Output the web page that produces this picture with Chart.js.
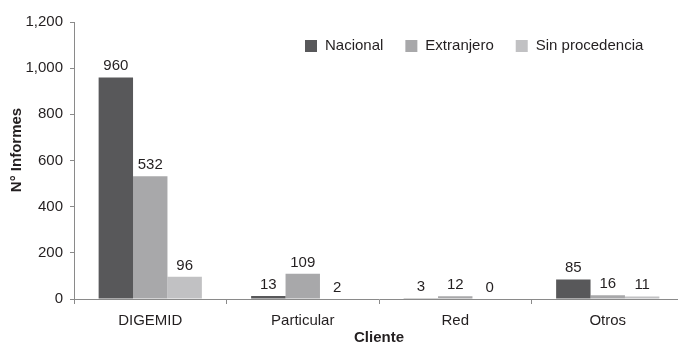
<!DOCTYPE html>
<html>
<head>
<meta charset="utf-8">
<script src="https://cdn.jsdelivr.net/npm/chart.js@4.4.1/dist/chart.umd.min.js"></script>
<style>
html,body{margin:0;padding:0;background:#fff;overflow:hidden;width:678px;height:346px;}
#wrap{width:686px;height:346px;}
</style>
</head>
<body>
<div id="wrap"><canvas id="c" width="686" height="346"></canvas></div>
<script>
const categories = ['DIGEMID', 'Particular', 'Red', 'Otros'];
const seriesNames = ['Nacional', 'Extranjero', 'Sin procedencia'];
const nacional = [960, 13, 3, 85];
const extranjero = [532, 109, 12, 16];
const sinProcedencia = [96, 2, 0, 11];
const yTicks = [0, 200, 400, 600, 800, 1000, 1200];
const colors = ['#58585a', '#a8a8aa', '#c1c1c3'];

const FONT = "'Liberation Sans', Arial, sans-serif";
const FS = 15;
const TEXT = '#231f20';
const AXIS = '#8a8a8a';

const labelsPlugin = {
  id: 'valueLabels',
  afterDatasetsDraw(chart) {
    const ctx = chart.ctx;
    ctx.save();
    ctx.font = FS + 'px ' + FONT;
    ctx.fillStyle = TEXT;
    ctx.textAlign = 'center';
    ctx.textBaseline = 'alphabetic';
    chart.data.datasets.forEach((ds, di) => {
      const meta = chart.getDatasetMeta(di);
      meta.data.forEach((bar, i) => {
        ctx.fillText(String(ds.data[i]), bar.x, bar.y - 7);
      });
    });
    ctx.restore();
  }
};

const legendPlugin = {
  id: 'customLegend',
  afterDraw(chart) {
    const ctx = chart.ctx;
    ctx.save();
    ctx.font = FS + 'px ' + FONT;
    ctx.textBaseline = 'middle';
    ctx.textAlign = 'left';
    let x = 305;
    const y = 46;
    chart.data.datasets.forEach((ds) => {
      ctx.fillStyle = ds.backgroundColor;
      ctx.fillRect(x, y - 6, 12, 12);
      ctx.fillStyle = TEXT;
      ctx.fillText(ds.label, x + 20, y);
      x += 20 + ctx.measureText(ds.label).width + 22;
    });
    ctx.restore();
  }
};

const yTitlePlugin = {
  id: 'yTitle',
  afterDraw(chart) {
    const ctx = chart.ctx;
    ctx.save();
    ctx.font = 'bold ' + FS + 'px ' + FONT;
    ctx.fillStyle = TEXT;
    ctx.textAlign = 'center';
    ctx.textBaseline = 'middle';
    ctx.translate(17, 150);
    ctx.rotate(-Math.PI / 2);
    ctx.fillText('N° Informes', 0, 0);
    ctx.restore();
  }
};

new Chart(document.getElementById('c'), {
  type: 'bar',
  data: {
    labels: categories,
    datasets: [
      { label: seriesNames[0], data: nacional, backgroundColor: colors[0] },
      { label: seriesNames[1], data: extranjero, backgroundColor: colors[1] },
      { label: seriesNames[2], data: sinProcedencia, backgroundColor: colors[2] }
    ]
  },
  options: {
    responsive: false,
    animation: false,
    layout: { padding: { top: 22, right: 2, bottom: 0, left: 0 } },
    datasets: { bar: { categoryPercentage: 0.677, barPercentage: 1.0 } },
    plugins: { legend: { display: false }, tooltip: { enabled: false } },
    scales: {
      x: {
        grid: { display: true, offset: true, drawOnChartArea: false, drawTicks: true, tickLength: 5, color: AXIS },
        border: { display: true, color: AXIS, width: 1 },
        ticks: { color: TEXT, font: { family: FONT, size: FS }, padding: 8, maxRotation: 0 },
        title: { display: true, text: 'Cliente', color: TEXT, font: { family: FONT, size: FS, weight: 'bold', lineHeight: 1 }, padding: { top: 0, bottom: 1 } },
        afterFit(scale) { scale.height = 47; }
      },
      y: {
        min: 0, max: 1200,
        afterBuildTicks(scale) { scale.ticks = yTicks.map(v => ({ value: v })); },
        grid: { display: true, drawOnChartArea: false, drawTicks: true, tickLength: 4, color: AXIS },
        border: { display: true, color: AXIS, width: 1 },
        ticks: { color: TEXT, font: { family: FONT, size: FS }, padding: 7,
          callback: (v) => v.toLocaleString('en-US') },
        afterFit(scale) { scale.width = 74; }
      }
    }
  },
  plugins: [labelsPlugin, legendPlugin, yTitlePlugin]
});
</script>
</body>
</html>
